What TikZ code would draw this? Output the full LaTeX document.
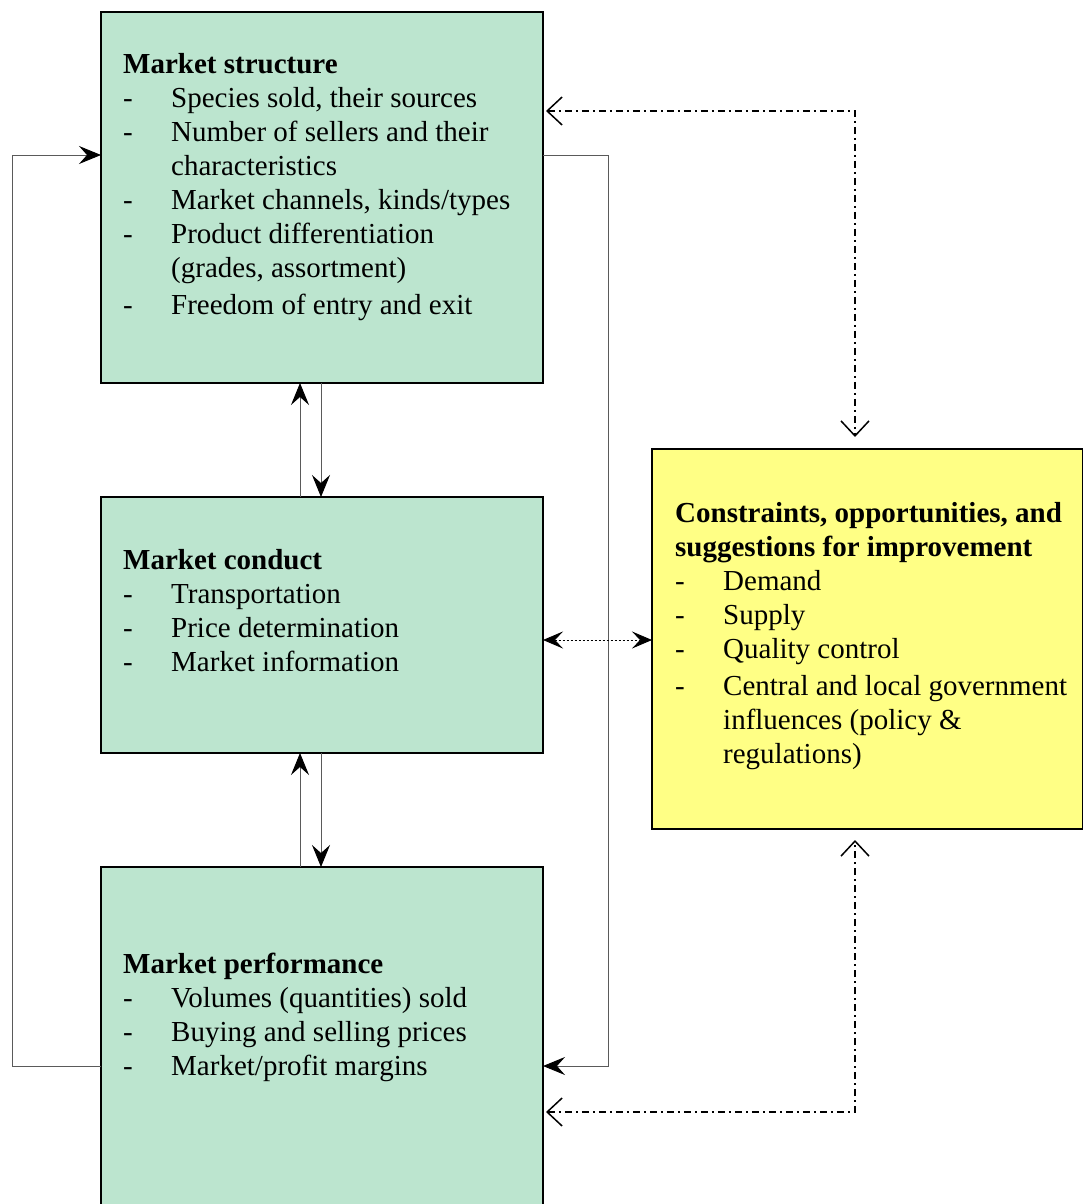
\documentclass[tikz,border=0pt]{standalone}
\usepackage{fontspec}
\setmainfont{Liberation Serif}
\usetikzlibrary{arrows.meta}

\definecolor{boxgreen}{RGB}{188,229,207}
\definecolor{boxyellow}{RGB}{255,255,133}
\definecolor{linkgray}{RGB}{90,90,90}

% list helpers: dash in a fixed-width slot, and hanging continuation lines
\newcommand\itm[1]{\makebox[48pt][l]{-}#1}
\newcommand\cnt[1]{\hspace*{48pt}#1}

\tikzset{
  panel/.style={draw=black, line width=1.3pt, anchor=north west, inner sep=0pt, outer sep=0pt},
  greenpanel/.style={panel, fill=boxgreen},
  yellowpanel/.style={panel, fill=boxyellow},
  listtext/.style={anchor=base west, inner sep=0pt, font=\fontsize{29}{34}\selectfont},
  link/.style={draw=linkgray, line width=0.9pt},
  solidtip/.style={-{Stealth[length=22pt,width=18pt,inset=8pt,color=black]}},
  dashdot/.style={draw=black, line width=1.2pt, dash pattern=on 7pt off 4pt on 2pt off 4pt},
  opentip/.style={{Straight Barb[length=15pt,width=28pt,line width=1.5pt]}-{Straight Barb[length=15pt,width=28pt,line width=1.5pt]}},
  dottedlink/.style={draw=black, line width=0.8pt, dash pattern=on 2pt off 2pt,
    {Stealth[length=20pt,width=17pt,inset=8pt]}-{Stealth[length=20pt,width=17pt,inset=8pt]}},
}

\begin{document}
\begin{tikzpicture}[x=1pt,y=-1pt]
\useasboundingbox (0,0) rectangle (1082,1204);

% the three market boxes and the constraints box
\node[greenpanel, minimum width=442pt, minimum height=371pt] (ms) at (101,12) {};
\node[greenpanel, minimum width=442pt, minimum height=256pt] (mc) at (101,497) {};
\node[greenpanel, minimum width=442pt, minimum height=350pt] (mp) at (101,867) {};
\node[yellowpanel, minimum width=431pt, minimum height=380pt] (cs) at (652,449) {};

% box contents
\node[listtext] (mstext) at (123,74) {\begin{tabular}[t]{@{}l@{}}
\textbf{Market structure}\\
\itm{Species sold, their sources}\\
\itm{Number of sellers and their}\\
\cnt{characteristics}\\
\itm{Market channels, kinds/types}\\
\itm{Product differentiation}\\
\cnt{(grades, assortment)}\\[3pt]
\itm{Freedom of entry and exit}
\end{tabular}};

\node[listtext] (mctext) at (123,569) {\begin{tabular}[t]{@{}l@{}}
\textbf{Market conduct}\\
\itm{Transportation}\\
\itm{Price determination}\\
\itm{Market information}
\end{tabular}};

\node[listtext] (mptext) at (123,973) {\begin{tabular}[t]{@{}l@{}}
\textbf{Market performance}\\
\itm{Volumes (quantities) sold}\\
\itm{Buying and selling prices}\\
\itm{Market/profit margins}
\end{tabular}};

\node[listtext] (cstext) at (675,522) {\begin{tabular}[t]{@{}l@{}}
\textbf{Constraints, opportunities, and}\\
\textbf{suggestions for improvement}\\
\itm{Demand}\\
\itm{Supply}\\
\itm{Quality control}\\[3pt]
\itm{Central and local government}\\
\cnt{influences (policy \&}\\
\cnt{regulations)}
\end{tabular}};

% helper levels and columns for the routed connectors
\coordinate (loopTop) at (0,155);
\coordinate (loopBot) at (0,1066);
\coordinate (leftCol) at (12,0);
\coordinate (rightCol) at (608,0);
\coordinate (upCol) at (300,0);
\coordinate (downCol) at (321,0);
\coordinate (dashTop) at (0,111);
\coordinate (dashBot) at (0,1112);
\coordinate (dashCol) at (855,0);
\coordinate (dotRow) at (0,640);

% feedback loops around the market boxes
\draw[link, solidtip] (mp.west |- loopBot) -- (leftCol |- loopBot) -- (leftCol |- loopTop) -- (ms.west |- loopTop);
\draw[link, solidtip] (ms.east |- loopTop) -- (rightCol |- loopTop) -- (rightCol |- loopBot) -- (mp.east |- loopBot);

% two-way links between structure, conduct and performance
\draw[link, solidtip] (mc.north -| upCol) -- (ms.south -| upCol);
\draw[link, solidtip] (ms.south -| downCol) -- (mc.north -| downCol);
\draw[link, solidtip] (mp.north -| upCol) -- (mc.south -| upCol);
\draw[link, solidtip] (mc.south -| downCol) -- (mp.north -| downCol);

% conduct <-> constraints
\draw[dottedlink] (mc.east |- dotRow) -- (cs.west |- dotRow);

% dash-dot links to the constraints box
\draw[dashdot, opentip, shorten <=3pt, shorten >=12pt] (ms.east |- dashTop) -- (dashCol |- dashTop) -- (cs.north -| dashCol);
\draw[dashdot, opentip, shorten <=3pt, shorten >=11pt] (mp.east |- dashBot) -- (dashCol |- dashBot) -- (cs.south -| dashCol);
\end{tikzpicture}
\end{document}
